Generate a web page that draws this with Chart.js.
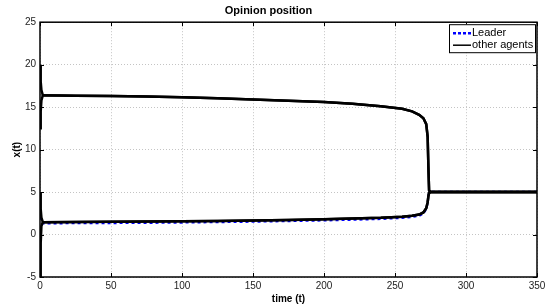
<!DOCTYPE html>
<html>
<head>
<meta charset="utf-8">
<script src="https://cdn.jsdelivr.net/npm/chart.js@4.4.0/dist/chart.umd.min.js"></script>
<style>
  html, body { margin: 0; padding: 0; background: #fff; }
  #wrap { width: 553px; height: 305px; }
</style>
</head>
<body>
<div id="wrap"><canvas id="mycanvas"></canvas></div>
<script>
// time samples (t)
var times = [0, 0.5, 1, 2, 25, 50, 75, 100, 125, 150, 175, 200,
             220, 240, 255, 262, 267, 270, 272, 273, 273.5, 274, 275, 300, 325, 350];

// start-up transients (t = 0, 0.5, 1, 2)
var headUpperA = [20, 18, 17, 16.4];
var headUpperB = [12.5, 14.5, 15.8, 16.4];
var headLowerA = [-5, -1, 1, 1.45];
var headLowerB = [5, 3, 2, 1.45];
var headLeader = [3.5, 2, 1.5, 1.3];

// after t = 2
var upperTail = [16.35, 16.3, 16.25, 16.15, 16.05, 15.9, 15.75, 15.6,
                 15.4, 15.1, 14.8, 14.5, 14.1, 13.7, 13.0, 11.5, 8, 5.2, 5, 5, 5, 5];
var lowerTail = [1.48, 1.5, 1.52, 1.55, 1.6, 1.65, 1.72, 1.8,
                 1.88, 1.97, 2.1, 2.2, 2.35, 2.6, 3.1, 3.8, 4.5, 4.9, 5, 5, 5, 5];
var leaderTail = [1.32, 1.34, 1.36, 1.4, 1.45, 1.5, 1.57, 1.65,
                  1.73, 1.82, 1.95, 2.05, 2.2, 2.45, 2.95, 3.7, 4.5, 4.95, 5.05, 5.05, 5.05, 5.05];

var xTicks = [0, 50, 100, 150, 200, 250, 300, 350];
var yTicks = [-5, 0, 5, 10, 15, 20, 25];

function pts(ys) {
  var out = [];
  for (var i in times) out.push({x: times[i], y: ys[i]});
  return out;
}

function agent(label, ys) {
  return {
    label: label,
    data: pts(ys),
    borderColor: '#000',
    borderWidth: 2.5,
    pointRadius: 0,
    showLine: true,
    tension: 0
  };
}

var chartdata = {
  datasets: [
    agent('other agents', headUpperA.concat(upperTail)),
    agent('other agents', headUpperB.concat(upperTail)),
    agent('other agents', headLowerA.concat(lowerTail)),
    agent('other agents', headLowerB.concat(lowerTail)),
    {
      label: 'Leader',
      data: pts(headLeader.concat(leaderTail)),
      borderColor: '#0000ff',
      borderWidth: 2,
      borderDash: [3, 3],
      pointRadius: 0,
      showLine: true,
      tension: 0
    }
  ]
};

// box, inward ticks (matlab style) and the legend
var boxPlugin = {
  id: 'box',
  afterDraw: function(chart) {
    var c = chart.ctx, a = chart.chartArea;
    var sx = chart.scales.x, sy = chart.scales.y;
    c.save();
    c.strokeStyle = '#000';
    c.lineWidth = 1.5;
    c.strokeRect(a.left, a.top, a.right - a.left, a.bottom - a.top);
    c.lineWidth = 1;
    c.beginPath();
    xTicks.forEach(function(v) {
      var px = Math.round(sx.getPixelForValue(v)) + 0.5;
      c.moveTo(px, a.bottom); c.lineTo(px, a.bottom - 4);
      c.moveTo(px, a.top); c.lineTo(px, a.top + 4);
    });
    yTicks.forEach(function(v) {
      var py = Math.round(sy.getPixelForValue(v)) + 0.5;
      c.moveTo(a.left, py); c.lineTo(a.left + 4, py);
      c.moveTo(a.right, py); c.lineTo(a.right - 4, py);
    });
    c.stroke();

    // legend
    var lx = a.right - 88, ly = a.top + 2, lw = 86, lh = 28;
    c.fillStyle = '#fff';
    c.fillRect(lx, ly, lw, lh);
    c.strokeStyle = '#000';
    c.lineWidth = 1;
    c.strokeRect(lx + 0.5, ly + 0.5, lw, lh);
    c.lineWidth = 2.5;
    c.strokeStyle = '#0000ff';
    c.setLineDash([3, 2]);
    c.beginPath(); c.moveTo(lx + 4, ly + 9); c.lineTo(lx + 22, ly + 9); c.stroke();
    c.setLineDash([]);
    c.strokeStyle = '#000';
    c.lineWidth = 1.5;
    c.beginPath(); c.moveTo(lx + 4, ly + 21); c.lineTo(lx + 22, ly + 21); c.stroke();
    c.fillStyle = '#000';
    c.font = '11px "Liberation Sans", Arial, sans-serif';
    c.textBaseline = 'middle';
    c.fillText('Leader', lx + 23, ly + 9);
    c.fillText('other agents', lx + 23, ly + 21);
    c.restore();
  }
};

var ctx = document.getElementById('mycanvas');

new Chart(ctx, {
  type: 'scatter',
  data: chartdata,
  plugins: [boxPlugin],
  options: {
    responsive: true,
    maintainAspectRatio: false,
    animation: false,
    layout: { padding: { left: 0, right: 16, top: 0, bottom: 0 } },
    plugins: {
      legend: { display: false },
      tooltip: { enabled: false },
      title: {
        display: true,
        text: 'Opinion position',
        color: '#000',
        font: { family: '"Liberation Sans", Arial, sans-serif', size: 11, weight: 'bold' },
        padding: { top: 4, bottom: 5 }
      }
    },
    scales: {
      x: {
        type: 'linear',
        min: 0, max: 350,
        afterBuildTicks: function(s) { s.ticks = xTicks.map(function(v) { return {value: v}; }); },
        afterFit: function(s) { s.height = 28; },
        grid: { color: '#c4c4c4', lineWidth: 1, drawTicks: false },
        border: { display: false, dash: [1, 2] },
        ticks: {
          color: '#222', padding: 3,
          font: { family: '"Liberation Sans", Arial, sans-serif', size: 10 }
        },
        title: {
          display: true, text: 'time (t)', color: '#000',
          font: { family: '"Liberation Sans", Arial, sans-serif', size: 10, weight: 'bold' },
          padding: { top: -2, bottom: 0 }
        }
      },
      y: {
        type: 'linear',
        min: -5, max: 25,
        afterBuildTicks: function(s) { s.ticks = yTicks.map(function(v) { return {value: v}; }); },
        afterFit: function(s) { s.width = 40; },
        grid: { color: '#c4c4c4', lineWidth: 1, drawTicks: false },
        border: { display: false, dash: [1, 2] },
        ticks: {
          color: '#222', padding: 4,
          font: { family: '"Liberation Sans", Arial, sans-serif', size: 10 }
        },
        title: {
          display: true, text: 'x(t)', color: '#000',
          font: { family: '"Liberation Sans", Arial, sans-serif', size: 10, weight: 'bold' },
          padding: { top: 11, bottom: 0 }
        }
      }
    }
  }
});
</script>
</body>
</html>
